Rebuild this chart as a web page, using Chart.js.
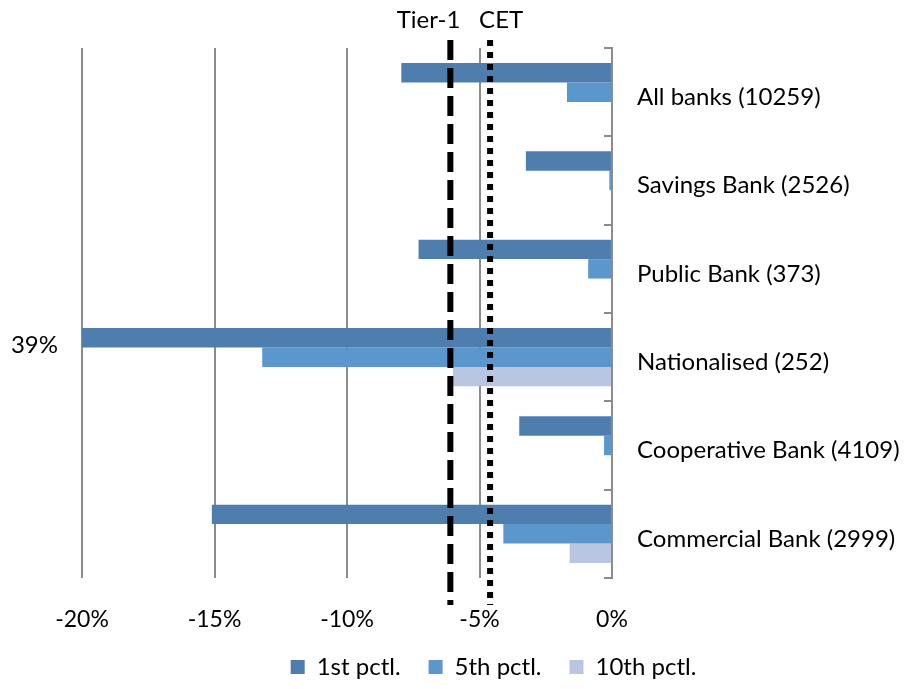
<!DOCTYPE html>
<html>
<head>
<meta charset="utf-8">
<script src="https://cdn.jsdelivr.net/npm/chart.js@4"></script>
<style>
  html, body { margin: 0; padding: 0; background: #fff; }
  #wrap { width: 905px; height: 689px; }
</style>
</head>
<body>
<div id="wrap"><canvas id="chart"></canvas></div>
<script>
const categories = ['All banks (10259)', 'Savings Bank (2526)', 'Public Bank (373)', 'Nationalised (252)', 'Cooperative Bank (4109)', 'Commercial Bank (2999)'];
const seriesNames = ['1st pctl.', '5th pctl.', '10th pctl.'];
const pctl1 = [-7.95, -3.25, -7.3, -39, -3.5, -15.1];
const pctl5 = [-1.7, -0.1, -0.9, -13.2, -0.3, -4.1];
const pctl10 = [0, 0, 0, -6.0, 0, -1.6];
const xTicks = [-20, -15, -10, -5, 0];
const refNames = ['Tier-1', 'CET'];
const refValues = [-6.1, -4.6];
const clippedNote = '39%';

const colors = ['#4f7eae', '#5b97cc', '#b9c6e2'];
const grey = '#8c8c8c';
const font = 'Lato';

// reference lines, the clipped-bar note and the inward category ticks
const overlay = {
    id: 'overlay',
    afterDatasetsDraw(chart) {
        const { ctx, chartArea, scales: { x, y } } = chart;
        ctx.save();

        ctx.strokeStyle = grey;
        ctx.lineWidth = 2;
        for (let i = 0; i <= categories.length; i++) {
            const py = Math.round(y.getPixelForValue(i - 0.5));
            ctx.beginPath();
            ctx.moveTo(chartArea.right - 8, py);
            ctx.lineTo(chartArea.right, py);
            ctx.stroke();
        }

        const dashes = [[20, 8], [6, 6]];
        ctx.strokeStyle = '#000';
        ctx.lineWidth = 6;
        refValues.forEach((v, i) => {
            const px = x.getPixelForValue(v);
            ctx.setLineDash(dashes[i]);
            ctx.beginPath();
            ctx.moveTo(px, chartArea.top - 8);
            ctx.lineTo(px, chartArea.bottom + 27);
            ctx.stroke();
        });
        ctx.setLineDash([]);

        ctx.fillStyle = '#000';
        ctx.font = `24px ${font}`;
        ctx.textBaseline = 'middle';
        ctx.textAlign = 'right';
        ctx.fillText(refNames[0], x.getPixelForValue(refValues[0]) + 10, 20);
        ctx.textAlign = 'left';
        ctx.fillText(refNames[1], x.getPixelForValue(refValues[1]) - 11, 20);

        ctx.textAlign = 'right';
        ctx.fillText(clippedNote, chartArea.left - 24, y.getPixelForValue(3) - 12);
        ctx.restore();
    },
};

new Chart(document.getElementById('chart'), {
    type: 'bar',
    data: {
        labels: categories,
        datasets: [pctl1, pctl5, pctl10].map((d, i) => ({
            label: seriesNames[i],
            data: d,
            backgroundColor: colors[i],
            borderWidth: 0,
            categoryPercentage: 0.66,
            barPercentage: 1,
        })),
    },
    options: {
        indexAxis: 'y',
        responsive: true,
        maintainAspectRatio: false,
        animation: false,
        layout: { padding: { left: 82, top: 48, right: 0, bottom: 0 } },
        scales: {
            x: {
                min: -20,
                max: 0,
                afterBuildTicks: (scale) => { scale.ticks = xTicks.map((v) => ({ value: v })); },
                afterFit: (scale) => { scale.height = 49; },
                ticks: {
                    padding: 28,
                    color: '#000',
                    font: { family: font, size: 23 },
                    callback: (v) => `${v}%`,
                },
                grid: { color: grey, lineWidth: 2, drawTicks: false },
                border: { display: false },
            },
            y: {
                position: 'right',
                afterFit: (scale) => { scale.width = 293; },
                ticks: {
                    padding: 17,
                    labelOffset: 5,
                    color: '#000',
                    font: { family: font, size: 24 },
                },
                grid: { display: false },
                border: { display: true, color: grey, width: 2 },
            },
        },
        plugins: {
            legend: {
                position: 'bottom',
                labels: {
                    boxWidth: 14,
                    boxHeight: 14,
                    padding: 28,
                    color: '#000',
                    font: { family: font, size: 24 },
                },
            },
            tooltip: { enabled: false },
        },
    },
    plugins: [overlay],
});
</script>
</body>
</html>
